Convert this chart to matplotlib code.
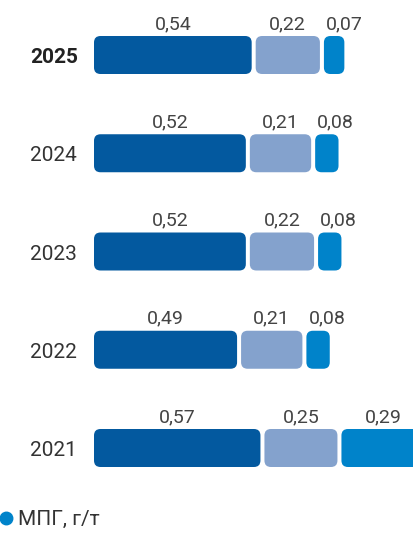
import matplotlib
matplotlib.use('Agg')
import matplotlib.pyplot as plt
from matplotlib.patches import FancyBboxPatch

# Data
years = ['2025', '2024', '2023', '2022', '2021']
part_a = [0.54, 0.52, 0.52, 0.49, 0.57]
part_b = [0.22, 0.21, 0.22, 0.21, 0.25]
part_c = [0.07, 0.08, 0.08, 0.08, 0.29]
legend_label = 'МПГ, г/т'

colors = ['#03599F', '#84A2CD', '#0083CA']

plt.rcParams['font.family'] = ['Roboto', 'DejaVu Sans']

dpi = 100
fig = plt.figure(figsize=(414 / dpi, 533 / dpi), dpi=dpi)
ax = fig.add_axes([0, 0, 1, 1])
ax.axis('off')

# pixel based scales
px_x = 292.0      # pixels per unit
x0_px = 94.0
row_px = 98.25
y0_px = 55.0
ax.set_xlim(-x0_px / px_x, (414 - x0_px) / px_x)
ax.set_ylim((533 - y0_px) / row_px, -y0_px / row_px)

bar_h = 38 / row_px
gap = 4 / px_x
radius = 6.5 / px_x
aspect = px_x / row_px

for i, year in enumerate(years):
    left = 0.0
    for k, vals in enumerate([part_a, part_b, part_c]):
        w = vals[i]
        patch = FancyBboxPatch((left, i - bar_h / 2), w, bar_h,
                               boxstyle=f'round,pad=0,rounding_size={radius}',
                               mutation_aspect=aspect,
                               facecolor=colors[k], edgecolor='none')
        ax.add_patch(patch)
        label = f'{w:.2f}'.replace('.', ',')
        ty = i - bar_h / 2 - 7 / row_px
        if w * px_x < 35:
            ax.text(left + 2 / px_x, ty, label, ha='left', va='baseline',
                    fontsize=14, color='#444444')
        else:
            ax.text(left + w / 2, ty, label, ha='center', va='baseline',
                    fontsize=14, color='#444444')
        left += w + gap

    ax.text(-(x0_px - 30) / px_x, i + 8.2 / row_px, year, ha='left', va='baseline',
            fontsize=15, color='#222222' if i == 0 else '#333333',
            fontweight='bold' if i == 0 else 'normal')

# Legend
ax.plot([(6.2 - x0_px) / px_x], [(518.3 - y0_px) / row_px], marker='o',
        markersize=9, color=colors[2], linestyle='none', clip_on=False)
fig.text(18.5 / 414, 1 - 525 / 533, legend_label, ha='left', va='baseline',
         fontsize=15, color='#333333')

fig.savefig('out.png', dpi=dpi)
